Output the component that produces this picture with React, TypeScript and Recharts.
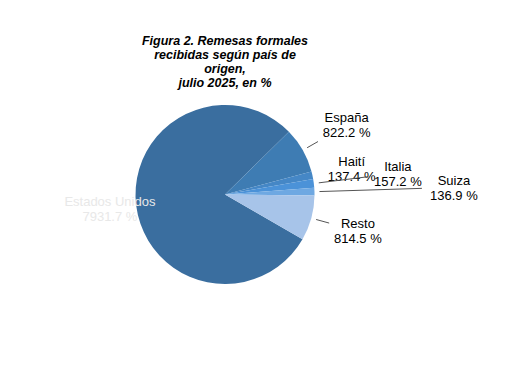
import { Cell, Pie, PieChart } from "recharts";

const countries = ["Estados Unidos", "España", "Haití", "Italia", "Suiza", "Resto"];
const shares = [7931.7, 822.2, 137.4, 157.2, 136.9, 814.5];
const sliceColors = ["#3a6e9f", "#3e7cb3", "#4587c6", "#4b92d8", "#6ea8e2", "#a7c4e9"];
const titleLines = ["Figura 2. Remesas formales", "recibidas según país de", "origen,", "julio 2025, en %"];

const data = countries.map((name, i) => ({ name, value: shares[i] }));

// label placement: radius + angle tweak, leader line end radius (0 = none)
const labelRadius = [116, 140, 129, 174, 229, 138];
const labelAngleShift = [0, 0, -1.4, -0.6, -0.3, -0.3];
const lineEnd = [0, 107, 0, 144, 197, 108];
const labelFill = ["#e8e8e8", "#000", "#000", "#000", "#000", "#000"];

const RADIAN = Math.PI / 180;
const FONT = "Liberation Sans, Arial, Helvetica, sans-serif";

function renderLabel(props: any) {
  const { cx, cy, midAngle, index, value, name } = props;
  const a = midAngle + labelAngleShift[index];
  const r = labelRadius[index];
  const x = cx + r * Math.cos(-a * RADIAN);
  const y = cy + r * Math.sin(-a * RADIAN);
  const endR = lineEnd[index];
  return (
    <g key={`lbl-${index}`}>
      {endR > 0 && (
        <line
          x1={cx + 94.5 * Math.cos(-midAngle * RADIAN)}
          y1={cy + 94.5 * Math.sin(-midAngle * RADIAN)}
          x2={cx + endR * Math.cos(-midAngle * RADIAN)}
          y2={cy + endR * Math.sin(-midAngle * RADIAN)}
          stroke="#555"
          strokeWidth={1}
        />
      )}
      <text x={x} y={y - 3.5} textAnchor="middle" fill={labelFill[index]} fontSize={13} fontFamily={FONT}>
        {name}
      </text>
      <text x={x} y={y + 11.5} textAnchor="middle" fill={labelFill[index]} fontSize={13} fontFamily={FONT}>
        {value.toFixed(1)} %
      </text>
    </g>
  );
}

export default function App() {
  return (
    <div style={{ position: "absolute", left: 0, top: 0, width: 511, height: 383, background: "#fff" }}>
      <PieChart width={511} height={383} margin={{ top: 0, right: 0, bottom: 0, left: 0 }}>
        {titleLines.map((t, i) => (
          <text
            key={t}
            x={225}
            y={45 + i * 14}
            textAnchor="middle"
            fontSize={12.5}
            fontWeight="bold"
            fontStyle="italic"
            fontFamily={FONT}
            fill="#000"
          >
            {t}
          </text>
        ))}
        <Pie
          data={data}
          dataKey="value"
          nameKey="name"
          cx={225}
          cy={194.5}
          outerRadius={89.5}
          startAngle={-30}
          endAngle={-390}
          stroke="none"
          label={renderLabel}
          labelLine={false}
          isAnimationActive={false}
        >
          {data.map((d, i) => (
            <Cell key={d.name} fill={sliceColors[i]} />
          ))}
        </Pie>
      </PieChart>
    </div>
  );
}
